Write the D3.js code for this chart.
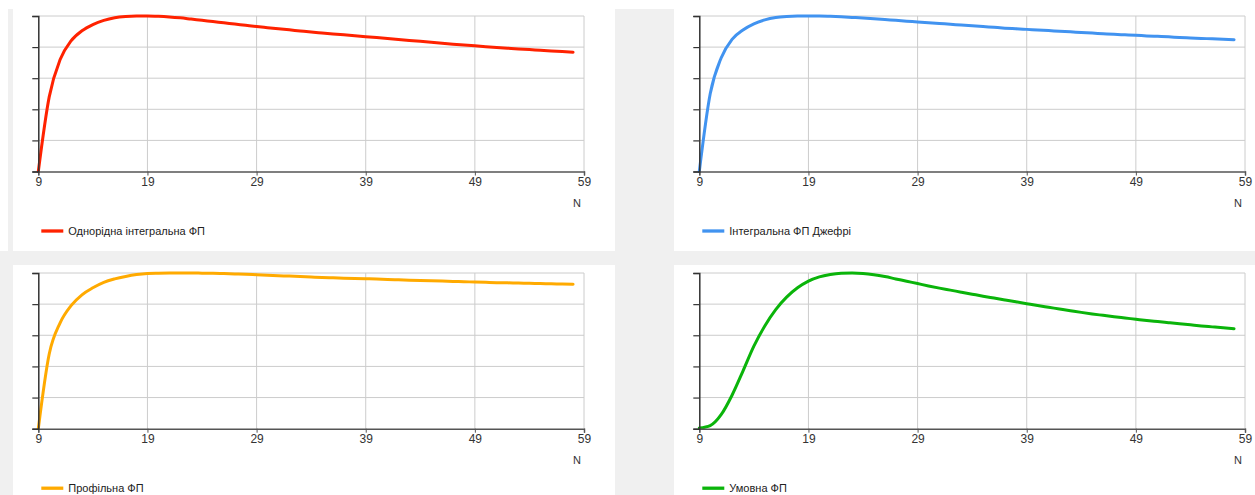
<!DOCTYPE html>
<html>
<head>
<meta charset="utf-8">
<script src="https://cdn.jsdelivr.net/npm/d3@7"></script>
<style>
  html, body { margin: 0; padding: 0; background: #f0f0f0; }
  svg { display: block; }
  text { font-family: "Liberation Sans", Arial, sans-serif; }
</style>
</head>
<body>
<svg id="chart" width="1255" height="495"></svg>
<script>
// ---------- data ----------
const nValues = d3.range(9, 59); // N = 9 .. 58
const xTickValues = [9, 19, 29, 39, 49, 59];
const yTickValues = [0, 0.2, 0.4, 0.6, 0.8, 1.0];
const axisTitle = "N";

const seriesNames = [
  "Однорідна інтегральна ФП",
  "Інтегральна ФП Джефрі",
  "Профільна ФП",
  "Умовна ФП"
];
const seriesColors = ["#ff2200", "#4193f0", "#ffaa00", "#0ab40a"];

const homogeneousIntegral = [
  0, 0.48, 0.72, 0.84, 0.905, 0.945, 0.972, 0.989, 0.997, 1.0,
  1.0, 0.998, 0.994, 0.988, 0.980, 0.972, 0.964, 0.956, 0.948, 0.940,
  0.932, 0.925, 0.918, 0.911, 0.904, 0.897, 0.891, 0.885, 0.879, 0.873,
  0.867, 0.861, 0.855, 0.849, 0.843, 0.837, 0.831, 0.825, 0.819, 0.813,
  0.808, 0.803, 0.798, 0.793, 0.788, 0.784, 0.779, 0.775, 0.771, 0.767
];
const jeffreysIntegral = [
  0, 0.50, 0.73, 0.85, 0.91, 0.95, 0.975, 0.99, 0.997, 1.0,
  1.0, 1.0, 0.998, 0.995, 0.991, 0.987, 0.982, 0.977, 0.972, 0.967,
  0.962, 0.957, 0.952, 0.947, 0.942, 0.937, 0.932, 0.927, 0.922, 0.918,
  0.914, 0.910, 0.906, 0.902, 0.898, 0.894, 0.890, 0.886, 0.882, 0.879,
  0.876, 0.872, 0.869, 0.866, 0.862, 0.859, 0.856, 0.853, 0.850, 0.847
];
const profileFP = [
  0, 0.48, 0.68, 0.79, 0.86, 0.905, 0.94, 0.962, 0.978, 0.99,
  0.997, 0.999, 1.0, 1.0, 1.0, 0.999, 0.998, 0.996, 0.994, 0.992,
  0.989, 0.986, 0.983, 0.980, 0.977, 0.974, 0.971, 0.969, 0.967, 0.965,
  0.963, 0.961, 0.958, 0.956, 0.954, 0.952, 0.950, 0.948, 0.946, 0.944,
  0.942, 0.940, 0.938, 0.937, 0.935, 0.934, 0.932, 0.931, 0.929, 0.928
];
const conditionalFP = [
  0.004, 0.02, 0.09, 0.215, 0.37, 0.53, 0.66, 0.765, 0.845, 0.905,
  0.948, 0.975, 0.99, 0.998, 1.0, 0.997, 0.989, 0.977, 0.962, 0.947,
  0.932, 0.917, 0.903, 0.89, 0.877, 0.864, 0.851, 0.839, 0.827, 0.815,
  0.803, 0.791, 0.78, 0.769, 0.758, 0.747, 0.737, 0.728, 0.719, 0.711,
  0.703, 0.695, 0.688, 0.681, 0.674, 0.667, 0.66, 0.654, 0.648, 0.642
];
const allSeries = [homogeneousIntegral, jeffreysIntegral, profileFP, conditionalFP];

// ---------- layout ----------
const svg = d3.select("#chart");
svg.append("rect").attr("x", 0).attr("y", 0).attr("width", 1255).attr("height", 495).attr("fill", "#f0f0f0");
svg.append("rect").attr("x", 0).attr("y", 0).attr("width", 1255).attr("height", 9).attr("fill", "#ffffff");
svg.append("rect").attr("x", 0).attr("y", 0).attr("width", 8).attr("height", 251).attr("fill", "#ffffff");

const panels = [
  { px: 13, py: 0, pw: 602, ph: 251, left: 38.3, right: 584, top: 16, bottom: 171.5 },
  { px: 674, py: 0, pw: 581, ph: 251, left: 699.3, right: 1245, top: 16, bottom: 171.5 },
  { px: 13, py: 265, pw: 602, ph: 230, left: 38.3, right: 584, top: 273, bottom: 428.7 },
  { px: 674, py: 265, pw: 581, ph: 230, left: 699.3, right: 1245, top: 273, bottom: 428.7 }
];

panels.forEach((p, i) => {
  const g = svg.append("g");
  g.append("rect").attr("x", p.px).attr("y", p.py).attr("width", p.pw).attr("height", p.ph).attr("fill", "#ffffff");

  const x = d3.scaleLinear().domain([9, 59]).range([p.left, p.right]);
  const y = d3.scaleLinear().domain([0, 1]).range([p.bottom, p.top]);

  // grid
  g.append("g").selectAll("line").data(xTickValues.slice(1)).join("line")
    .attr("x1", d => x(d)).attr("x2", d => x(d))
    .attr("y1", p.top).attr("y2", p.bottom)
    .attr("stroke", "#cccccc").attr("stroke-width", 1);
  g.append("g").selectAll("line").data(yTickValues.slice(1)).join("line")
    .attr("x1", p.left).attr("x2", p.right)
    .attr("y1", d => y(d)).attr("y2", d => y(d))
    .attr("stroke", "#cccccc").attr("stroke-width", 1);

  // series line
  const pts = nValues.map((n, k) => [n, allSeries[i][k]]);
  g.append("path").datum(pts)
    .attr("fill", "none")
    .attr("stroke", seriesColors[i])
    .attr("stroke-width", 3)
    .attr("stroke-linejoin", "round")
    .attr("stroke-linecap", "round")
    .attr("d", d3.line().x(d => x(d[0])).y(d => y(d[1])).curve(d3.curveMonotoneX));

  // x axis
  const xa = g.append("g").attr("transform", `translate(0,${p.bottom})`)
    .call(d3.axisBottom(x).tickValues(xTickValues).tickFormat(d3.format("d")).tickSizeOuter(0).tickSize(4));
  xa.select(".domain").attr("stroke", "#555555").attr("stroke-width", 1.5);
  xa.selectAll(".tick line").attr("stroke", "#555555");
  xa.selectAll(".tick text").attr("fill", "#333333").attr("font-size", 12)
    .attr("font-family", "'Liberation Sans', Arial, sans-serif").attr("dy", "0.85em").attr("y", 4);

  // y axis
  const ya = g.append("g").attr("transform", `translate(${p.left},0)`)
    .call(d3.axisLeft(y).tickValues(yTickValues).tickFormat("").tickSizeOuter(0).tickSize(6));
  ya.select(".domain").attr("stroke", "#333333").attr("stroke-width", 1.5);
  ya.selectAll(".tick line").attr("stroke", "#333333").attr("stroke-width", 1.2);

  // axis title
  g.append("text").attr("x", p.right - 7).attr("y", p.bottom + 35)
    .attr("text-anchor", "middle").attr("font-size", 11).attr("fill", "#333333").text(axisTitle);

  // legend
  const ly = p.bottom + 59.5;
  g.append("line").attr("x1", p.left + 3).attr("x2", p.left + 25).attr("y1", ly).attr("y2", ly)
    .attr("stroke", seriesColors[i]).attr("stroke-width", 3.3);
  g.append("text").attr("x", p.left + 30).attr("y", ly + 4)
    .attr("font-size", 11).attr("fill", "#222222").text(seriesNames[i]);
});
</script>
</body>
</html>
